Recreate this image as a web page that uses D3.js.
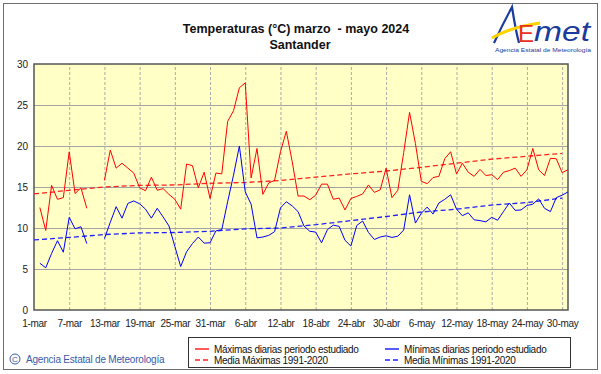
<!DOCTYPE html>
<html>
<head>
<meta charset="utf-8">
<script src="https://cdn.jsdelivr.net/npm/d3@7"></script>
<style>
  body { margin: 0; background: #fff; }
  text { font-family: "Liberation Sans", Arial, sans-serif; }
</style>
</head>
<body>
<div id="chart"></div>
<script>
// day index 0 = 1-mar ... 91 = 31-may
var tickLabels = ["1-mar", "7-mar", "13-mar", "19-mar", "25-mar", "31-mar", "6-abr", "12-abr",
  "18-abr", "24-abr", "30-abr", "6-may", "12-may", "18-may", "24-may", "30-may"];
var tickDays = [0, 6, 12, 18, 24, 30, 36, 42, 48, 54, 60, 66, 72, 78, 84, 90];

var maxTemps = [null, 12.5, 9.7, 15.2, 13.5, 13.7, 19.3, 14.2, 14.9, 12.4, null, null,
  15.8, 19.5, 17.3, 17.9, 17.3, 16.7, 14.9, 14.55, 16.2, 14.6, 14.8, 14.1,
  13.5, 12.3, 17.8, 17.6, 14.9, 16.8, 13.6, 16.7, 16.6, 23.0, 24.3, 27.1,
  27.7, 16.1, 19.7, 14.1, 15.5, 15.8, 19.3, 21.8, 18.1, 13.9, 13.9, 13.45,
  14.0, 15.35, 15.35, 13.5, 13.65, 12.2, 13.6, 13.85, 14.15, 15.25, 14.35, 14.65,
  17.3, 13.7, 14.6, 19.2, 24.1, 20.3, 15.7, 15.4, 16.15, 16.3, 18.45, 19.3,
  16.6, 17.9, 16.8, 16.3, 17.15, 16.4, 16.5, 15.9, 16.8, 17.0, 17.3, 16.3,
  17.1, 19.7, 17.1, 16.4, 18.5, 18.45, 16.75, 17.1];

var minTemps = [null, 5.7, 5.15, 6.9, 8.45, 7.05, 11.3, 9.9, 10.15, 8.1, null, null,
  8.7, 10.7, 12.6, 11.2, 13.0, 13.3, 12.95, 12.3, 11.2, 12.4, 11.35, 10.25,
  7.75, 5.3, 7.1, 8.1, 8.9, 8.15, 8.2, 9.65, 9.8, 13.2, 16.45, 20.0,
  14.4, 12.9, 8.8, 8.9, 9.1, 9.55, 12.45, 13.2, 12.7, 12.0, 10.25, 9.6,
  9.5, 8.2, 9.8, 10.35, 10.2, 8.5, 7.8, 10.3, 10.85, 9.45, 8.6, 8.9,
  9.05, 8.85, 9.0, 9.75, 14.05, 10.6, 11.8, 12.55, 11.7, 13.05, 13.5, 14.05,
  12.3, 11.5, 11.85, 11.0, 10.9, 10.75, 11.3, 10.95, 12.0, 13.05, 12.15, 12.2,
  12.75, 12.9, 13.55, 12.4, 12.0, 13.7, 14.0, 14.4];

// normals 1991-2020 read at the tick days
var meanMax = [14.15, 14.6, 15.0, 15.2, 15.25, 15.45, 15.55, 15.8, 16.2, 16.6, 16.95, 17.4, 17.9, 18.4, 18.75, 19.1];
var meanMin = [8.55, 8.85, 9.2, 9.4, 9.45, 9.6, 9.9, 10.0, 10.4, 10.9, 11.4, 11.95, 12.3, 12.8, 13.1, 13.65];

var yTicks = [0, 5, 10, 15, 20, 25, 30];

var width = 601, height = 374;
var plot = {left: 34, right: 568, top: 64, bottom: 310};

var svg = d3.select("#chart").append("svg").attr("width", width).attr("height", height);

// outer frame
svg.append("rect").attr("x", 3.5).attr("y", 3.5).attr("width", 594).attr("height", 366)
    .attr("fill", "#fff").attr("stroke", "#6e6e6e").attr("stroke-width", 1);

var x = d3.scaleLinear().domain([0, 91]).range([plot.left, plot.right]);
var y = d3.scaleLinear().domain([0, 30]).range([plot.bottom, plot.top]);

// plot background
svg.append("rect").attr("x", plot.left).attr("y", plot.top)
    .attr("width", plot.right - plot.left).attr("height", plot.bottom - plot.top)
    .attr("fill", "#ffffc6");

// horizontal grid
svg.append("g")
    .attr("transform", "translate(" + plot.left + ",0)")
    .call(d3.axisLeft(y).tickValues([5, 10, 15, 20, 25]).tickSize(-(plot.right - plot.left)).tickFormat(""))
    .call(function(g) { g.select(".domain").remove(); })
    .selectAll("line").attr("stroke", "#a4a4a4");

// vertical dashed grid
svg.append("g")
    .attr("transform", "translate(0," + plot.bottom + ")")
    .call(d3.axisBottom(x).tickValues(tickDays.slice(1)).tickSize(-(plot.bottom - plot.top)).tickFormat(""))
    .call(function(g) { g.select(".domain").remove(); })
    .selectAll("line").attr("stroke", "#aaaaaa").attr("stroke-dasharray", "3,2");

// plot border
svg.append("rect").attr("x", plot.left).attr("y", plot.top)
    .attr("width", plot.right - plot.left).attr("height", plot.bottom - plot.top)
    .attr("fill", "none").attr("stroke", "#555").attr("stroke-width", 1.5);

// y axis labels
var yAxis = svg.append("g")
    .attr("transform", "translate(" + (plot.left - 5) + ",0)")
    .call(d3.axisLeft(y).tickValues(yTicks).tickSize(0).tickPadding(1));
yAxis.select(".domain").remove();
yAxis.selectAll("text").attr("font-size", "10px").attr("fill", "#222")
    .attr("font-family", "Liberation Sans, Arial, sans-serif");

// x axis labels
var xAxis = svg.append("g")
    .attr("transform", "translate(0," + (plot.bottom + 10) + ")")
    .call(d3.axisBottom(x).tickValues(tickDays).tickSize(0).tickPadding(0)
      .tickFormat(function(d, i) { return tickLabels[i]; }));
xAxis.select(".domain").remove();
xAxis.selectAll("text").attr("font-size", "10px").attr("fill", "#222")
    .attr("letter-spacing", "-0.3px")
    .attr("font-family", "Liberation Sans, Arial, sans-serif");

var line = d3.line()
    .defined(function(d) { return d != null; })
    .x(function(d, i) { return x(i); })
    .y(function(d) { return y(d); });

var meanLine = d3.line()
    .x(function(d, i) { return x(tickDays[i]); })
    .y(function(d) { return y(d); });

svg.append("path").datum(meanMax).attr("d", meanLine)
    .attr("fill", "none").attr("stroke", "#ff2020").attr("stroke-width", 1.3).attr("stroke-dasharray", "5,3");
svg.append("path").datum(meanMin).attr("d", meanLine)
    .attr("fill", "none").attr("stroke", "#2020ff").attr("stroke-width", 1.3).attr("stroke-dasharray", "5,3");

svg.append("path").datum(maxTemps).attr("d", line)
    .attr("fill", "none").attr("stroke", "#ff0000").attr("stroke-width", 1);
svg.append("path").datum(minTemps).attr("d", line)
    .attr("fill", "none").attr("stroke", "#0000ff").attr("stroke-width", 1);

// titles
svg.append("text").attr("x", 296).attr("y", 33).attr("text-anchor", "middle")
    .attr("font-size", "12.5px").attr("font-weight", "bold").attr("fill", "#111")
    .attr("xml:space", "preserve").text("Temperaturas (°C) marzo  - mayo 2024");
svg.append("text").attr("x", 300).attr("y", 49).attr("text-anchor", "middle")
    .attr("font-size", "12.5px").attr("font-weight", "bold").attr("fill", "#111")
    .text("Santander");

// AEMET logo (rough approximation)
var logo = svg.append("g");
logo.append("path").attr("d", "M494,43 C500,30 506,18 512,7 C514,20 516,32 519,43")
    .attr("fill", "none").attr("stroke", "#1a3c9c").attr("stroke-width", 2.2);
logo.append("path").attr("d", "M492,38 C505,30 520,26 540,23")
    .attr("fill", "none").attr("stroke", "#ffd200").attr("stroke-width", 3);
logo.append("text").attr("x", 518).attr("y", 42).attr("font-size", "24px").attr("fill", "#e83020")
    .attr("font-family", "DejaVu Sans, sans-serif").text("E");
logo.append("text").attr("x", 534).attr("y", 41).attr("font-size", "28px").attr("font-style", "italic")
    .attr("fill", "#1a3c9c").attr("font-family", "DejaVu Serif, serif")
    .attr("textLength", 56).attr("lengthAdjust", "spacingAndGlyphs").text("met");
logo.append("text").attr("x", 495).attr("y", 52).attr("font-size", "6px").attr("fill", "#1a3c9c")
    .attr("textLength", 96).attr("lengthAdjust", "spacingAndGlyphs").text("Agencia Estatal de Meteorología");

// legend
svg.append("rect").attr("x", 188.5).attr("y", 337.5).attr("width", 382).attr("height", 30)
    .attr("fill", "#fff").attr("stroke", "#333");
var legendItems = [
  {label: "Máximas diarias periodo estudiado", color: "#ff0000", dash: null, col: 0, row: 0},
  {label: "Media Máximas 1991-2020", color: "#ff2020", dash: "5,3", col: 0, row: 1},
  {label: "Mínimas diarias periodo estudiado", color: "#0000ff", dash: null, col: 1, row: 0},
  {label: "Media Mínimas 1991-2020", color: "#2020ff", dash: "5,3", col: 1, row: 1}
];
var colX = [195, 385];
legendItems.forEach(function(d) {
  var lx = colX[d.col], ly = 349 + d.row * 11;
  svg.append("line").attr("x1", lx).attr("x2", lx + 14).attr("y1", ly).attr("y2", ly)
      .attr("stroke", d.color).attr("stroke-width", 1.3).attr("stroke-dasharray", d.dash);
  svg.append("text").attr("x", lx + 19).attr("y", ly + 3.5).attr("font-size", "10px")
      .attr("letter-spacing", "-0.3px").attr("fill", "#111").text(d.label);
});

// copyright
svg.append("circle").attr("cx", 15).attr("cy", 359).attr("r", 5)
    .attr("fill", "none").attr("stroke", "#3a5aa8").attr("stroke-width", 1);
svg.append("text").attr("x", 15).attr("y", 362).attr("text-anchor", "middle")
    .attr("font-size", "8px").attr("fill", "#3a5aa8").text("C");
svg.append("text").attr("x", 26).attr("y", 363).attr("font-size", "10px")
    .attr("letter-spacing", "-0.2px").attr("fill", "#3a5aa8").text("Agencia Estatal de Meteorología");
</script>
</body>
</html>
